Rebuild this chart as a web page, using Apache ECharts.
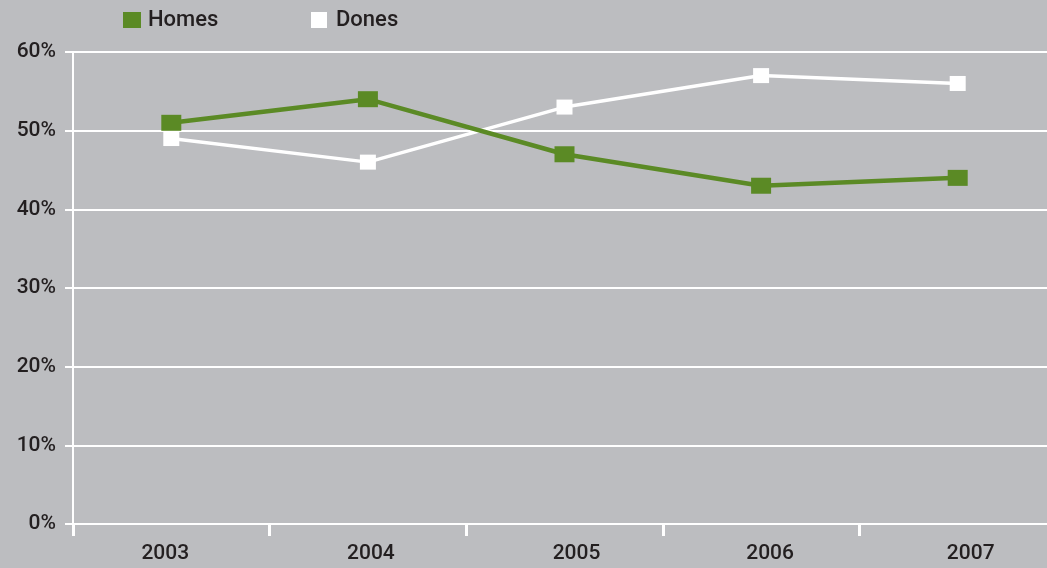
<!DOCTYPE html>
<html>
<head>
<meta charset="utf-8">
<style>
  html, body { margin: 0; padding: 0; background: #bcbdc0; }
  #chart { width: 1047px; height: 568px; }
</style>
<script src="https://cdn.jsdelivr.net/npm/echarts@6/dist/echarts.min.js"></script>
</head>
<body>
<div id="chart"></div>
<script>
// Survey years and share per group (percent)
const years = ['2003', '2004', '2005', '2006', '2007'];
const homes = [51, 54, 47, 43, 44];
const dones = [49, 46, 53, 57, 56];
const yTicks = { min: 0, max: 60, step: 10 };

const GREEN = '#5b8a25';
const WHITE = '#ffffff';
const TEXT = '#231f20';
const FONT = 'Roboto, "Liberation Sans", Arial, sans-serif';

// small horizontal nudges of the year labels (px, + = right)
const labelShift = [-6, 3, 12, 9, 13];
const rich = {};
labelShift.forEach((d, i) => {
  rich['y' + i] = {
    color: TEXT, fontSize: 21, fontWeight: 500, fontFamily: FONT,
    padding: d >= 0 ? [0, 0, 0, 2 * d] : [0, -2 * d, 0, 0]
  };
});

const chart = echarts.init(document.getElementById('chart'));
chart.setOption({
  backgroundColor: '#bcbdc0',
  animation: false,
  textStyle: { fontFamily: FONT },
  legend: [
    {
      data: ['Homes'], left: 123, top: 9, padding: 0, icon: 'rect',
      itemWidth: 18, itemHeight: 16, itemGap: 0,
      textStyle: { color: TEXT, fontSize: 22, fontWeight: 500, fontFamily: FONT, padding: [0, 0, 0, 2] }
    },
    {
      data: ['Dones'], left: 311, top: 9, padding: 0, icon: 'rect',
      itemWidth: 16, itemHeight: 16, itemGap: 0,
      textStyle: { color: TEXT, fontSize: 22, fontWeight: 500, fontFamily: FONT, padding: [0, 0, 0, 4] }
    }
  ],
  // the plot runs a little past the right edge of the canvas
  grid: { left: 73, top: 52, bottom: 44, right: -9, outerBoundsMode: 'none', containLabel: false },
  xAxis: {
    type: 'category',
    data: years,
    boundaryGap: true,
    axisLine: { lineStyle: { color: WHITE, width: 2 } },
    axisTick: { show: true, length: 12, lineStyle: { color: WHITE, width: 3 } },
    axisLabel: {
      margin: 19,
      formatter: (v, i) => '{y' + i + '|' + v + '}',
      rich: rich
    },
    splitLine: { show: false }
  },
  yAxis: {
    type: 'value',
    min: yTicks.min, max: yTicks.max, interval: yTicks.step,
    axisLine: { show: true, lineStyle: { color: WHITE, width: 2 } },
    axisTick: { show: true, length: 8, lineStyle: { color: WHITE, width: 2 } },
    axisLabel: { color: TEXT, fontSize: 21, fontWeight: 500, margin: 17, formatter: '{value}%', fontFamily: FONT },
    splitLine: { show: true, lineStyle: { color: WHITE, width: 2 } }
  },
  series: [
    {
      name: 'Dones', type: 'line', data: dones, z: 3,
      symbol: 'rect', symbolSize: [16, 15], showAllSymbol: true,
      itemStyle: { color: WHITE },
      lineStyle: { color: WHITE, width: 3.5 }
    },
    {
      name: 'Homes', type: 'line', data: homes, z: 4,
      symbol: 'rect', symbolSize: [20, 16], showAllSymbol: true,
      itemStyle: { color: GREEN },
      lineStyle: { color: GREEN, width: 4.5 }
    }
  ]
});
</script>
</body>
</html>
